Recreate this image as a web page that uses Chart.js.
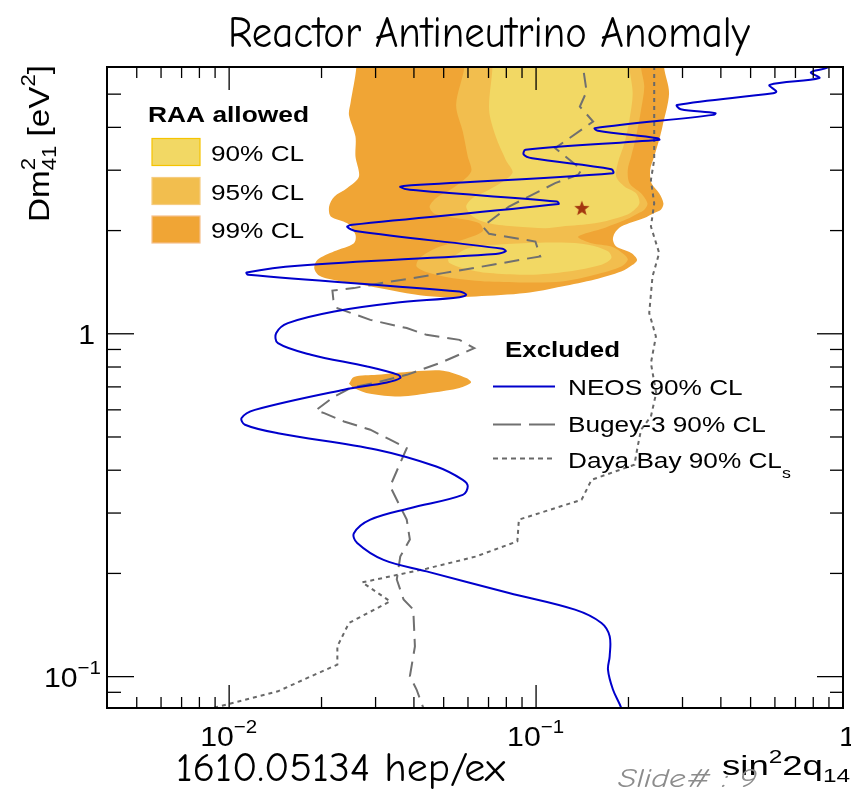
<!DOCTYPE html>
<html>
<head>
<meta charset="utf-8">
<script src="https://cdn.jsdelivr.net/npm/chart.js@4.4.1/dist/chart.umd.min.js"></script>
<style>
  html, body { margin: 0; padding: 0; background: #fff; }
  canvas { display: block; }
</style>
</head>
<body>
<canvas id="c" width="851" height="790"></canvas>
<script>
// RAA: sin^2 2θ14 vs Δm^2_41 (log-log).
// каждая кривая — пары [sin^2 2θ, Δm^2]

const neos = [
  [0.924, 6.29], [0.895, 5.99], [0.786, 5.79], [0.837, 5.57], [0.577, 5.32], [0.606, 5.09], [0.592, 5.03],
  [0.288, 4.65], [0.296, 4.52], [0.384, 4.40], [0.379, 4.35], [0.1554, 3.98], [0.159, 3.91], [0.2486, 3.72],
  [0.252, 3.68], [0.0924, 3.44], [0.0912, 3.33], [0.0971, 3.25], [0.176, 3.02], [0.178, 2.94], [0.0370, 2.70],
  [0.0361, 2.68], [0.0388, 2.63], [0.1169, 2.43], [0.1183, 2.39], [0.02518, 2.08], [0.02426, 2.05],
  [0.02613, 1.99], [0.0777, 1.77], [0.0796, 1.74], [0.0739, 1.71], [0.01673, 1.58], [0.01140, 1.51],
  [0.01154, 1.486], [0.0563, 1.328], [0.0592, 1.299], [0.0563, 1.279], [0.0343, 1.229], [0.0220, 1.161],
  [0.01554, 1.074], [0.01424, 1.005], [0.01442, 0.939], [0.01847, 0.869], [0.02815, 0.803], [0.0356, 0.759],
  [0.0361, 0.743], [0.03265, 0.721], [0.02367, 0.687], [0.01213, 0.600], [0.01098, 0.568], [0.01126, 0.543],
  [0.01442, 0.513], [0.0303, 0.459], [0.0473, 0.410], [0.0577, 0.375], [0.0599, 0.359], [0.0577, 0.339],
  [0.0388, 0.310], [0.02884, 0.287], [0.0255, 0.262], [0.02613, 0.2453], [0.03185, 0.219], [0.04395, 0.2028],
  [0.0816, 0.1754], [0.1339, 0.1568], [0.1633, 0.1434], [0.1737, 0.1311], [0.1737, 0.1146], [0.1715, 0.1048],
  [0.178, 0.0917], [0.1894, 0.0811], [0.197, 0.0724],
];

const bugey = [
  [0.1410, 6.73], [0.1424, 5.95], [0.1461, 5.09], [0.1389, 4.60], [0.1534, 4.16], [0.1154, 3.48], [0.1407, 3.01],
  [0.1372, 2.91], [0.1154, 2.75], [0.0816, 2.35], [0.0670, 2.055], [0.0703, 1.957], [0.0995, 1.858],
  [0.1032, 1.68], [0.0924, 1.654], [0.0721, 1.589], [0.0498, 1.503], [0.0398, 1.453], [0.0311, 1.405],
  [0.0255, 1.359], [0.0217, 1.337], [0.02186, 1.256], [0.02252, 1.188], [0.02884, 1.098], [0.0379, 1.039],
  [0.04395, 0.993], [0.0563, 0.960], [0.0629, 0.908], [0.0485, 0.821], [0.0379, 0.759], [0.02958, 0.718],
  [0.02486, 0.695], [0.0220, 0.656], [0.01917, 0.598], [0.02041, 0.587], [0.02367, 0.555], [0.02884, 0.525],
  [0.03346, 0.491], [0.0379, 0.464], [0.0361, 0.420], [0.03346, 0.359], [0.03517, 0.328], [0.0379, 0.287],
  [0.0388, 0.251], [0.0361, 0.224], [0.03517, 0.192], [0.0370, 0.168], [0.0398, 0.157], [0.0403, 0.1225],
  [0.0388, 0.1002], [0.0408, 0.0917], [0.0429, 0.0811], [0.0443, 0.0739],
];

const dayaBay = [
  [0.2426, 6.73], [0.2426, 3.22], [0.2367, 2.81], [0.2426, 2.40], [0.2367, 2.055], [0.2518, 1.72],
  [0.2395, 1.469], [0.2337, 1.149], [0.2457, 0.982], [0.2367, 0.821], [0.2462, 0.672], [0.2367, 0.574],
  [0.2198, 0.525], [0.2143, 0.469], [0.2091, 0.415], [0.1516, 0.375], [0.1407, 0.328], [0.0879, 0.287],
  [0.0869, 0.248], [0.0637, 0.224], [0.04395, 0.2065], [0.02712, 0.1883], [0.03346, 0.1658], [0.02457, 0.1434],
  [0.02252, 0.1225], [0.02252, 0.1084], [0.01847, 0.1002], [0.01442, 0.0906], [0.00982, 0.0829], [0.00796, 0.0791],
];

// RAA allowed regions (контуры)
const raa99 = [
  [0.02594, 7.20], [0.02597, 5.99], [0.02486, 4.71], [0.02457, 4.35], [0.0258, 3.76], [0.0258, 3.29],
  [0.02647, 2.87], [0.02426, 2.66], [0.0220, 2.51], [0.02117, 2.35], [0.02143, 2.20], [0.02426, 2.10],
  [0.0258, 1.944], [0.0255, 1.838], [0.0220, 1.74], [0.01941, 1.644], [0.01894, 1.554], [0.0197, 1.476],
  [0.02252, 1.427], [0.02815, 1.38], [0.0343, 1.335], [0.0418, 1.295], [0.05099, 1.278], [0.0637, 1.285],
  [0.0924, 1.314], [0.1213, 1.374], [0.1554, 1.44], [0.1894, 1.519], [0.2064, 1.589], [0.2133, 1.644],
  [0.2041, 1.72], [0.1825, 1.797], [0.178, 1.879], [0.1803, 1.966], [0.1894, 2.055], [0.2252, 2.175],
  [0.2426, 2.25], [0.255, 2.30], [0.26, 2.40], [0.2518, 2.57], [0.2377, 2.75], [0.2354, 3.01], [0.2426, 3.29],
  [0.2518, 3.68], [0.258, 4.02], [0.2712, 5.03], [0.2613, 5.99], [0.2613, 7.20],
];
const raa99Island = [
  [0.02457, 0.715], [0.0255, 0.748], [0.0303, 0.759], [0.0398, 0.776], [0.0498, 0.780], [0.0592, 0.743],
  [0.0614, 0.721], [0.0563, 0.695], [0.0462, 0.674], [0.0361, 0.656], [0.02884, 0.668], [0.0255, 0.695],
  [0.02457, 0.715],
];
const raa95 = [
  [0.0583, 7.20], [0.0584, 5.99], [0.0549, 4.65], [0.0577, 3.89], [0.0599, 3.29], [0.0614, 2.97], [0.0536, 2.66],
  [0.0473, 2.49], [0.0450, 2.35], [0.0467, 2.24], [0.0549, 2.175], [0.0653, 2.10], [0.0670, 1.99], [0.0577, 1.879],
  [0.0473, 1.778], [0.0418, 1.663], [0.0408, 1.571], [0.0450, 1.503], [0.0536, 1.453], [0.0703, 1.420],
  [0.0947, 1.411], [0.1213, 1.420], [0.1554, 1.486], [0.1894, 1.571], [0.1990, 1.644], [0.1941, 1.70],
  [0.176, 1.797], [0.1516, 1.838], [0.1372, 1.921], [0.168, 2.04], [0.198, 2.16], [0.2140, 2.24],
  [0.2252, 2.30], [0.2307, 2.40], [0.2198, 2.57], [0.2015, 2.75], [0.199, 3.01], [0.2041, 3.29],
  [0.2118, 3.76], [0.2198, 4.50], [0.2252, 5.26], [0.2198, 5.99], [0.2198, 7.20],
];
const raa90 = [
  [0.0721, 7.20], [0.0721, 5.99], [0.0703, 4.50], [0.0739, 3.76], [0.0796, 3.22], [0.0837, 2.94], [0.0703, 2.63],
  [0.0622, 2.49], [0.0592, 2.35], [0.0622, 2.20], [0.0703, 2.10], [0.0858, 2.055], [0.1072, 2.033],
  [0.1213, 2.055], [0.1554, 2.10], [0.1850, 2.18], [0.2040, 2.26], [0.2170, 2.40], [0.2118, 2.57],
  [0.1941, 2.69], [0.1825, 2.87], [0.1847, 3.15], [0.1941, 3.60], [0.2015, 4.21], [0.2064, 5.03],
  [0.2015, 5.99], [0.2015, 7.20],
];
const raa90Lobe = [
  [0.0516, 1.644], [0.0606, 1.778], [0.0837, 1.83], [0.1213, 1.846], [0.1478, 1.818], [0.1715, 1.74],
  [0.176, 1.663], [0.1633, 1.589], [0.1274, 1.519], [0.0947, 1.486], [0.0703, 1.503], [0.0577, 1.554],
  [0.0522, 1.608], [0.0516, 1.644],
];
const bestFit = [[0.141, 2.33]];

// оси
const xRange = [0.004, 1];
const yRange = [0.081, 6];
const xMajor = [0.01, 0.1, 1];
const xMinor = [0.004, 0.005, 0.006, 0.007, 0.008, 0.009, 0.02, 0.03, 0.04, 0.05, 0.06, 0.07, 0.08, 0.09,
  0.2, 0.3, 0.4, 0.5, 0.6, 0.7, 0.8, 0.9];
const yMajor = [0.1, 1];
const yMinor = [0.09, 0.2, 0.3, 0.4, 0.5, 0.6, 0.7, 0.8, 0.9, 2, 3, 4, 5];
const xTickLabels = [['10', '\u22122'], ['10', '\u22121'], ['1', '']];
const yTickLabels = [['10', '\u22121'], ['1', '']];

const allowedLabels = ['90% CL', '95% CL', '99% CL'];
const excludedLabels = ['NEOS 90% CL', 'Bugey-3 90% CL', 'Daya Bay 90% CL'];

const C90 = '#F2D864', C95 = '#F2BE4E', C99 = '#F0A535';
const NEOS_C = '#0000CC', BUGEY_C = '#707070', DYB_C = '#686868';

const SANS = '"Liberation Sans", Arial, Helvetica, sans-serif';
const HAND = '"Comic Sans MS", "Comic Neue", "DejaVu Sans Condensed", sans-serif';

// ---- текст: набор кусков (sup/sub), растяжение по ширине ----
function drawRuns(ctx, x, y, parts, o = {}) {
  const fam = o.family || SANS;
  const fontOf = p => `${(p.italic || o.italic) ? 'italic ' : ''}${(p.bold || o.bold) ? 'bold ' : ''}${p.size}px ${fam}`;
  ctx.save();
  let w = 0;
  const adv = parts.map(p => {
    ctx.font = fontOf(p);
    const m = ctx.measureText(p.t).width;
    if (!p.stack) w += m;
    return m;
  });
  const sx = o.width ? o.width / w : (o.sx || 1);
  ctx.translate(x, y);
  if (o.rotate) ctx.rotate(o.rotate);
  ctx.scale(sx, 1);
  let cx = o.align === 'right' ? -w : o.align === 'center' ? -w / 2 : 0;
  ctx.fillStyle = o.color || '#000';
  ctx.textBaseline = 'alphabetic';
  ctx.textAlign = 'left';
  parts.forEach((p, i) => {
    ctx.font = fontOf(p);
    ctx.fillText(p.t, cx, p.dy || 0);
    if (!p.stack) cx += adv[i];
  });
  ctx.restore();
}

function line(ctx, x1, y1, x2, y2) {
  ctx.beginPath();
  ctx.moveTo(x1, y1);
  ctx.lineTo(x2, y2);
  ctx.stroke();
}

function starImage(r, color) {
  const c = document.createElement('canvas');
  c.width = c.height = Math.ceil(r * 2 + 2);
  const g = c.getContext('2d');
  const cx = c.width / 2, cy = c.height / 2 + 0.8;
  g.beginPath();
  for (let i = 0; i < 10; i++) {
    const a = -Math.PI / 2 + i * Math.PI / 5;
    const rr = i % 2 === 0 ? r : r * 0.42;
    g.lineTo(cx + rr * Math.cos(a), cy + rr * Math.sin(a));
  }
  g.closePath();
  g.fillStyle = color;
  g.fill();
  return c;
}

// ---- рамка, тики, подписи, легенды (в стиле ROOT) ----
const rootDecor = {
  id: 'rootDecor',
  afterDatasetsDraw(chart) {
    const { ctx, chartArea: a, scales: { x: xs, y: ys } } = chart;
    ctx.save();
    ctx.strokeStyle = '#000';

    ctx.lineWidth = 1.3;
    xMinor.forEach(v => {
      const px = xs.getPixelForValue(v);
      line(ctx, px, a.bottom, px, a.bottom - 11);
      line(ctx, px, a.top, px, a.top + 11);
    });
    xMajor.forEach(v => {
      const px = xs.getPixelForValue(v);
      line(ctx, px, a.bottom, px, a.bottom - 23);
      line(ctx, px, a.top, px, a.top + 23);
    });
    yMinor.forEach(v => {
      const py = ys.getPixelForValue(v);
      line(ctx, a.left, py, a.left + 14, py);
      line(ctx, a.right, py, a.right - 13, py);
    });
    yMajor.forEach(v => {
      const py = ys.getPixelForValue(v);
      line(ctx, a.left, py, a.left + 27, py);
      line(ctx, a.right, py, a.right - 26, py);
    });

    ctx.lineWidth = 2;
    ctx.strokeRect(a.left, a.top, a.right - a.left, a.bottom - a.top);

    // подписи тиков X
    xMajor.forEach((v, i) => {
      const px = xs.getPixelForValue(v);
      const [b, e] = xTickLabels[i];
      if (e) {
        drawRuns(ctx, px - 29, a.bottom + 38, [{ t: b, size: 28 }, { t: e, size: 19, dy: -13 }], { sx: 1.08 });
      } else {
        drawRuns(ctx, px - 4, a.bottom + 38, [{ t: b, size: 28 }], { sx: 1.08 });
      }
    });
    // подписи тиков Y
    yMajor.forEach((v, i) => {
      const py = ys.getPixelForValue(v);
      const [b, e] = yTickLabels[i];
      const parts = e ? [{ t: b, size: 28 }, { t: e, size: 19, dy: -13 }] : [{ t: b, size: 28 }];
      drawRuns(ctx, a.left - (e ? 6 : 12), py + 10, parts, { sx: 1.08, align: 'right' });
    });

    // заголовки осей
    drawRuns(ctx, 49, 222, [
      { t: 'Dm', size: 30 }, { t: '2', size: 20, dy: -14, stack: true }, { t: '41', size: 20, dy: 7 },
      { t: ' [eV', size: 30 }, { t: '2', size: 20, dy: -14 }, { t: ']', size: 30 },
    ], { rotate: -Math.PI / 2, width: 157 });
    drawRuns(ctx, 722, 775, [
      { t: 'sin', size: 27 }, { t: '2', size: 18, dy: -12 }, { t: '2q', size: 27 }, { t: '14', size: 18, dy: 7 },
    ], { width: 128 });

    // легенда RAA allowed
    drawRuns(ctx, 148, 122, [{ t: 'RAA allowed', size: 22 }], { bold: true, width: 161 });
    const boxes = [[C90, '#F5C400', 138.5, 161], [C95, '#F6CC80', 177.5, 199.5], [C99, '#F6C08C', 216, 238]];
    boxes.forEach(([fillC, edge, top, base], i) => {
      ctx.fillStyle = fillC;
      ctx.fillRect(152, top, 48, 27);
      ctx.strokeStyle = edge;
      ctx.lineWidth = 1.2;
      ctx.strokeRect(152, top, 48, 27);
      drawRuns(ctx, 211, base, [{ t: allowedLabels[i], size: 22 }], { sx: 1.19 });
    });

    // легенда Excluded
    drawRuns(ctx, 505, 357, [{ t: 'Excluded', size: 22 }], { bold: true, width: 115 });
    ctx.lineWidth = 2;
    ctx.strokeStyle = NEOS_C;
    line(ctx, 493, 386.5, 555, 386.5);
    ctx.strokeStyle = BUGEY_C;
    ctx.setLineDash([28, 8]);
    line(ctx, 493, 424.5, 555, 424.5);
    ctx.strokeStyle = DYB_C;
    ctx.setLineDash([5, 4]);
    line(ctx, 493, 458.5, 555, 458.5);
    ctx.setLineDash([]);
    drawRuns(ctx, 568, 394.5, [{ t: excludedLabels[0], size: 22 }], { sx: 1.19 });
    drawRuns(ctx, 568, 431.5, [{ t: excludedLabels[1], size: 22 }], { sx: 1.19 });
    drawRuns(ctx, 568, 468, [{ t: excludedLabels[2], size: 22 }, { t: 's', size: 15, dy: 10 }], { sx: 1.19 });

    ctx.restore();
  },
  afterDraw(chart) {
    const { ctx } = chart;
    drawRuns(ctx, 228, 47, [{ t: 'Reactor Antineutrino Anomaly', size: 44 }], { family: HAND, width: 522 });
    drawRuns(ctx, 176, 781, [{ t: '1610.05134 hep/ex', size: 40 }], { family: HAND, width: 329 });
    drawRuns(ctx, 618, 787, [{ t: 'Slide# : 9', size: 26 }], { family: HAND, italic: true, color: '#8C8C8C', width: 139 });
  },
};

function region(data, color, order) {
  return {
    data, order,
    backgroundColor: color,
    borderWidth: 0,
    fill: 'shape',
    pointRadius: 0,
    tension: 0.3,
  };
}

function curve(data, color, dash, tension, order) {
  return {
    data, order,
    borderColor: color,
    borderWidth: 2,
    borderDash: dash,
    fill: false,
    pointRadius: 0,
    tension,
  };
}

new Chart(document.getElementById('c'), {
  type: 'line',
  data: {
    datasets: [
      {
        data: bestFit, order: 0, showLine: false,
        pointStyle: starImage(8, '#A3360F'), pointRadius: 7,
      },
      curve(neos, NEOS_C, [], 0.35, 1),
      curve(bugey, BUGEY_C, [15, 8], 0, 2),
      curve(dayaBay, DYB_C, [4, 4], 0, 3),
      region(raa90, C90, 4),
      region(raa90Lobe, C90, 4),
      region(raa95, C95, 5),
      region(raa99, C99, 6),
      region(raa99Island, C99, 6),
    ],
  },
  options: {
    responsive: false,
    animation: false,
    devicePixelRatio: 1,
    events: [],
    layout: { padding: { left: 107, right: 0, top: 67, bottom: 82 } },
    scales: {
      x: { type: 'logarithmic', min: xRange[0], max: xRange[1], display: false },
      y: { type: 'logarithmic', min: yRange[0], max: yRange[1], display: false },
    },
    plugins: {
      legend: { display: false },
      tooltip: { enabled: false },
      title: { display: false },
    },
  },
  plugins: [rootDecor],
});
</script>
</body>
</html>
